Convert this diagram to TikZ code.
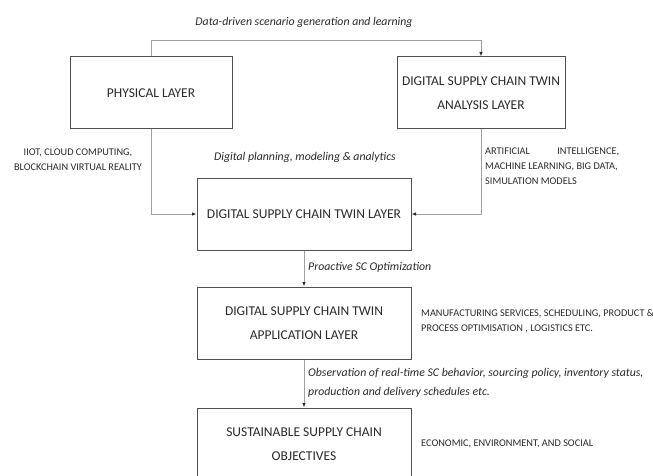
\documentclass[tikz,border=0pt]{standalone}
\usepackage{fontspec}
\setmainfont{Carlito}
\usetikzlibrary{arrows.meta}
\definecolor{boxline}{HTML}{505050}
\definecolor{linkline}{HTML}{A0A0A0}
\definecolor{ink}{HTML}{2B2B2B}
\begin{document}
\begin{tikzpicture}[x=1pt,y=-1pt,
  layerbox/.style={draw=boxline, line width=1pt, minimum height=72pt, align=center,
    font=\fontsize{13.5}{24}\selectfont, text=ink, inner sep=0pt},
  link/.style={draw=linkline, line width=0.8pt,
    -{Latex[length=4.5pt,width=3.5pt,fill=ink,color=ink]}},
  flowlabel/.style={font=\fontsize{11.8}{19.5}\selectfont\itshape, text=ink, inner sep=0pt},
  techlabel/.style={font=\fontsize{10.3}{15}\selectfont, text=ink, inner sep=0pt}]
\clip (0,0) rectangle (653,476);
\fill[white] (0,0) rectangle (653,476);

% layers
\node[layerbox, minimum width=162pt] (phys) at (151,93) {PHYSICAL LAYER};
\node[layerbox, minimum width=168pt] (ana) at (481,93) {DIGITAL SUPPLY CHAIN TWIN\\ANALYSIS LAYER};
\node[layerbox, minimum width=214pt] (dsct) at (304,214) {DIGITAL SUPPLY CHAIN TWIN LAYER};
\node[layerbox, minimum width=214pt] (app) at (304,323) {DIGITAL SUPPLY CHAIN TWIN\\APPLICATION LAYER};
\node[layerbox, minimum width=214pt] (obj) at (304,444) {SUSTAINABLE SUPPLY CHAIN\\OBJECTIVES};

% connectors
\coordinate (topl) at (151,40);
\coordinate (topr) at (481,40);
\coordinate (midl) at (151,214);
\coordinate (midr) at (481,214);
\draw[link] (phys.north) -- (topl) -- (topr) -- (ana.north);
\draw[link] (phys.south) -- (midl) -- (dsct.west);
\draw[link] (ana.south) -- (midr) -- (dsct.east);
\draw[link] (dsct.south) -- (app.north);
\draw[link] (app.south) -- (obj.north);

% flow labels
\node[flowlabel] (lblData) at (304,22) {Data-driven scenario generation and learning};
\node[flowlabel] (lblPlan) at (305,157) {Digital planning, modeling \& analytics};
\node[flowlabel, anchor=west] (lblOpt) at (308,267) {Proactive SC Optimization};
\node[flowlabel, anchor=north west, align=left] (lblObs) at (308,368)
  {Observation of real-time SC behavior, sourcing policy, inventory status,\\production and delivery schedules etc.};

% technology labels
\node[techlabel, align=center] (lblTech) at (78,159.5) {IIOT, CLOUD COMPUTING,\\BLOCKCHAIN VIRTUAL REALITY};
\node[techlabel, anchor=north west, align=left] (lblAI) at (485,148)
  {\hbox to 134pt{ARTIFICIAL\hfill INTELLIGENCE,}\\MACHINE LEARNING, BIG DATA,\\SIMULATION MODELS};
\node[techlabel, anchor=north west, align=left] (lblApp) at (421,309)
  {MANUFACTURING SERVICES, SCHEDULING, PRODUCT \&\\PROCESS OPTIMISATION , LOGISTICS ETC.};
\node[techlabel, anchor=west] (lblGoal) at (421,444) {ECONOMIC, ENVIRONMENT, AND SOCIAL};
\end{tikzpicture}
\end{document}
